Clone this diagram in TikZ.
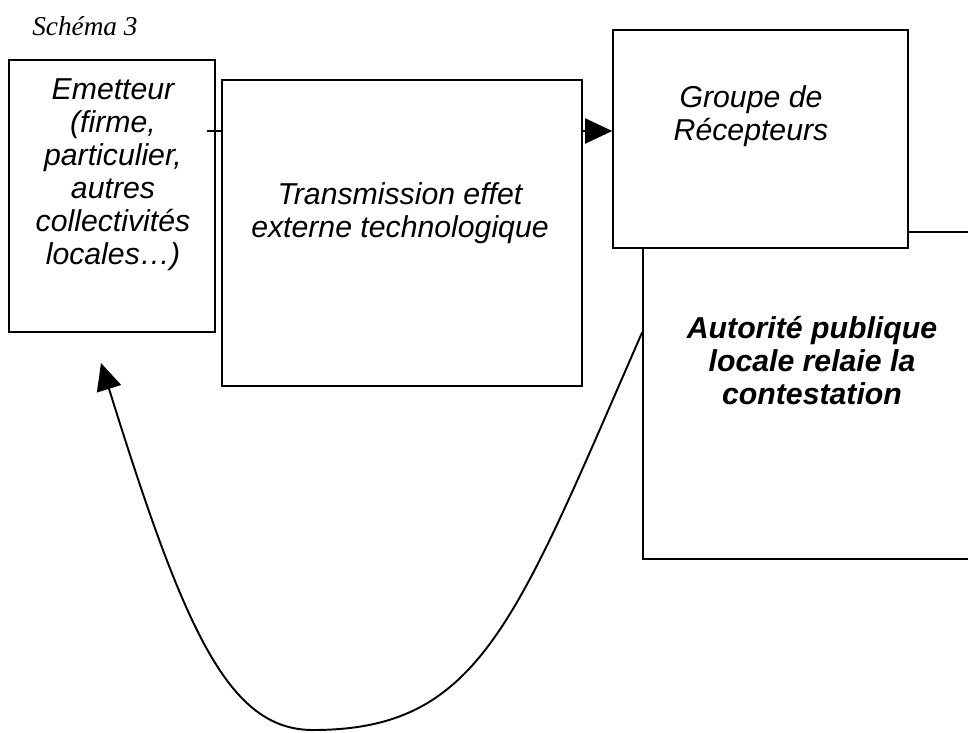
\documentclass[tikz,border=0pt]{standalone}
\usepackage{fontspec}
\setmainfont{Liberation Sans}
\newfontfamily\schemafont{Liberation Serif}
\usepackage{tikz}
\usetikzlibrary{arrows.meta}

\begin{document}
\begin{tikzpicture}[
    box/.style={draw, line width=0.9pt, fill=white, rectangle, inner sep=0pt},
    txt/.style={align=center, inner sep=0pt, font=\fontsize{17.2}{18.8}\selectfont\itshape},
    flux/.style={line width=1.1pt, -{Triangle[length=0.54cm, width=0.5cm]}}
]
    % Fix the frame
    \clip (0,0) rectangle (19.36,-14.66);
    \fill[white] (0,0) rectangle (19.36,-14.66);

    % Title
    \node[anchor=west, inner sep=0pt, font=\schemafont\itshape\fontsize{15.5}{18}\selectfont] (titre) at (0.64,-0.52) {Schéma 3};

    % Draw the boxes
    \node[box, minimum width=4.12cm, minimum height=5.44cm] (emetteur) at (2.24,-3.92) {};
    \node[box, minimum width=7.14cm, minimum height=6.54cm] (autorite) at (16.43,-7.91) {};
    \node[box, minimum width=5.9cm, minimum height=4.36cm] (groupe) at (15.21,-2.78) {};

    % Emetteur to receptors, behind the transmission box
    \coordinate (depart) at (4.14,-2.62);
    \draw[flux] (depart) -- (depart -| groupe.west);
    \node[box, minimum width=7.2cm, minimum height=6.12cm] (transmission) at (8.04,-4.66) {};

    % Texts
    \node[txt] (emetteur-t) at (2.26,-3.5) {Emetteur\\(firme,\\particulier,\\autres\\collectivités\\locales\ldots)};
    \node[txt] (transmission-t) at (8.0,-4.26) {Transmission effet\\externe technologique};
    \node[txt] (groupe-t) at (15.02,-2.32) {Groupe de\\Récepteurs};
    \node[txt, font=\fontsize{17.2}{18.8}\selectfont\bfseries\itshape] (autorite-t) at (16.24,-7.22) {Autorité publique\\locale relaie la\\contestation};

    % Feedback to the emetteur
    \coordinate (retour) at (2.02,-7.26);
    \draw[flux] ([yshift=-2.02cm]autorite.north west) .. controls (10.30,-12.46) and (9.60,-14.60) .. (6.26,-14.60)
        .. controls (4.58,-14.60) and (3.70,-12.66) .. (retour);
\end{tikzpicture}
\end{document}
